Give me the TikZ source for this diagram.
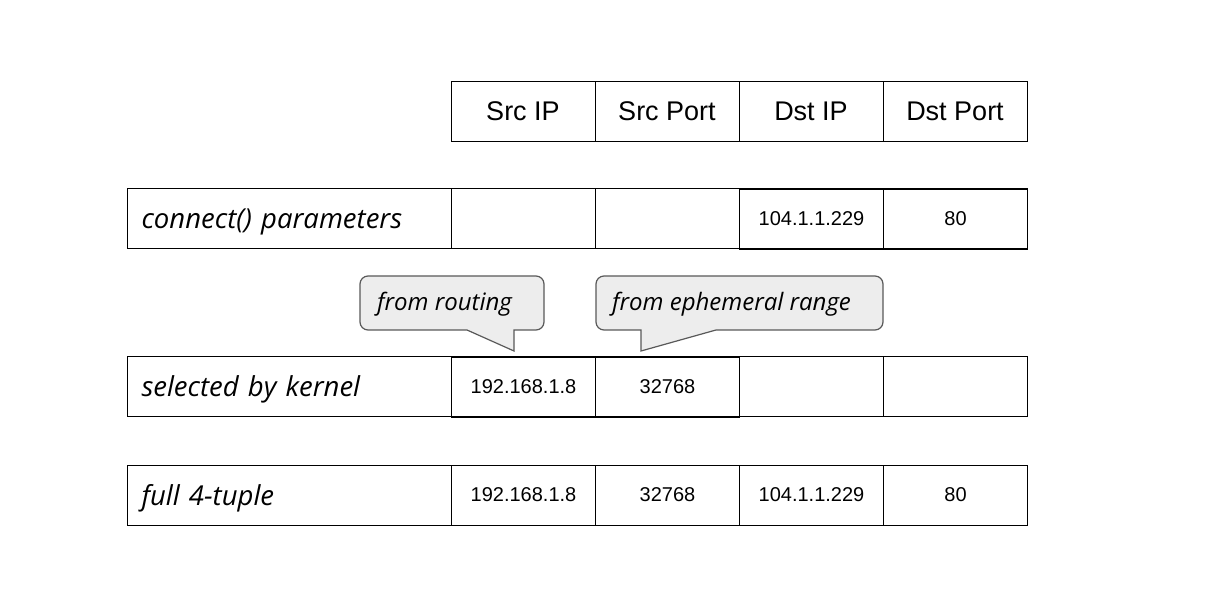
\documentclass[tikz,border=0pt]{standalone}
\usepackage{fontspec}
\setmainfont{Liberation Sans}
\newfontfamily\notefont{Open Sans}
\usetikzlibrary{positioning}

\tikzset{
  cell/.style={draw,line width=1pt,minimum width=144pt,minimum height=60pt,inner sep=0pt,outer sep=0pt,font=\fontsize{20}{24}\selectfont},
  head/.style={cell,font=\fontsize{27}{32}\selectfont},
  rowname/.style={draw,line width=1pt,minimum height=60pt,text width=296pt,text height=20pt,text depth=0pt,inner xsep=14pt,inner ysep=0pt,outer sep=0pt,align=left,font=\notefont\itshape\fontsize{27.5}{32}\selectfont},
  picked/.style={draw,line width=1.8pt},
  bubble/.style={draw=black!65,fill=black!7,line width=1.2pt},
  bubbletext/.style={inner sep=0pt,font=\notefont\itshape\fontsize{24}{28}\selectfont}
}

\begin{document}
\begin{tikzpicture}[x=1pt,y=-1pt]
  \useasboundingbox (0,0) rectangle (1213,601);

  % header
  \node[head] (h1) at (523,111.5) {Src IP};
  \node[head,right=0pt of h1] (h2) {Src Port};
  \node[head,right=0pt of h2] (h3) {Dst IP};
  \node[head,right=0pt of h3] (h4) {Dst Port};

  % connect() parameters
  \node[rowname] (r1) at (289.5,219) {connect() parameters};
  \node[cell,right=0pt of r1] (a1) {};
  \node[cell,right=0pt of a1] (a2) {};
  \node[cell,right=0pt of a2] (a3) {104.1.1.229};
  \node[cell,right=0pt of a3] (a4) {80};
  \draw[picked] (a3.north west) rectangle (a4.south east);

  % selected by kernel
  \node[rowname] (r2) at (289.5,387) {selected by kernel};
  \node[cell,right=0pt of r2] (b1) {192.168.1.8};
  \node[cell,right=0pt of b1] (b2) {32768};
  \node[cell,right=0pt of b2] (b3) {};
  \node[cell,right=0pt of b3] (b4) {};
  \draw[picked] (b1.north west) rectangle (b2.south east);

  % full 4-tuple
  \node[rowname] (r3) at (289.5,495) {full 4-tuple};
  \node[cell,right=0pt of r3] (c1) {192.168.1.8};
  \node[cell,right=0pt of c1] (c2) {32768};
  \node[cell,right=0pt of c2] (c3) {104.1.1.229};
  \node[cell,right=0pt of c3] (c4) {80};

  % callouts
  \draw[bubble] (544,303) [rounded corners=8pt] -- (544,330) [sharp corners] -- (514,330) -- (514,351) -- (467,330) [rounded corners=8pt] -- (360,330) -- (360,276) -- (544,276) -- cycle;
  \node[bubbletext,anchor=west] (routing) at (377,304.5) {from routing};
  \draw[bubble] (883,303) [rounded corners=8pt] -- (883,330) [sharp corners] -- (716,330) -- (641,351) -- (641,330) [rounded corners=8pt] -- (596,330) -- (596,276) -- (883,276) -- cycle;
  \node[bubbletext,anchor=west] (ephemeral) at (612,304.5) {from ephemeral range};
\end{tikzpicture}
\end{document}
